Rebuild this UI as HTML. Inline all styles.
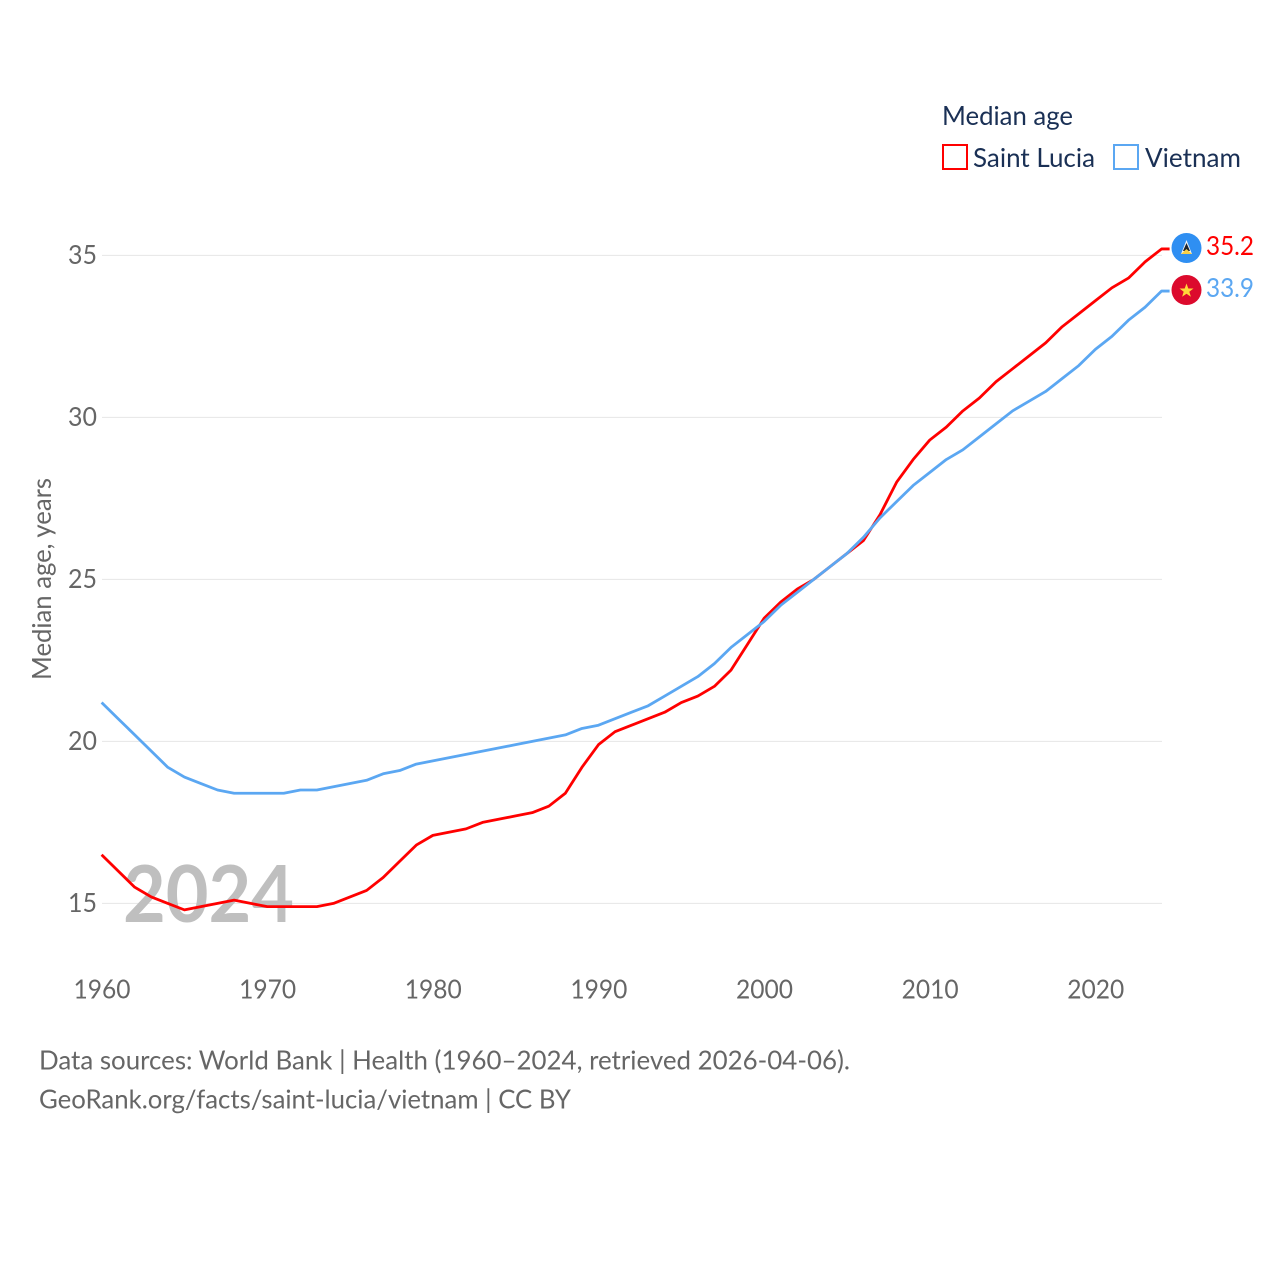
<!DOCTYPE html>
<html lang="en">
<head>
<meta charset="utf-8">
<title>Median age: Saint Lucia and Vietnam</title>
<style>
html,body{margin:0;padding:0;background:#fff;width:1280px;height:1280px;overflow:hidden}
svg{display:block;font-family:"Lato","Carlito","Liberation Sans",sans-serif}
</style>
</head>
<body>
<svg id="chart" xmlns="http://www.w3.org/2000/svg" width="1280" height="1280" viewBox="0 0 1280 1280">
  <rect x="0" y="0" width="1280" height="1280" fill="#fff"/>
  <g id="grid"></g>
  <text x="123" y="922" font-size="79" font-weight="700" fill="#bfbfbf" textLength="171" lengthAdjust="spacingAndGlyphs">2024</text>
  <g id="yticks"></g>
  <g id="xticks"></g>
  <text transform="translate(51,680) rotate(-90)" font-size="26" fill="#666" textLength="202" lengthAdjust="spacingAndGlyphs">Median age, years</text>
  <g id="series"></g>

  <text x="942" y="125" font-size="26" fill="#1a3055" textLength="131" lengthAdjust="spacingAndGlyphs">Median age</text>
  <g>
    <rect x="943" y="145" width="24" height="24" fill="none" stroke="#ff0000" stroke-width="2"/>
    <text x="973" y="167" font-size="26" fill="#1a3055" textLength="122" lengthAdjust="spacingAndGlyphs">Saint Lucia</text>
  </g>
  <g>
    <rect x="1114" y="145" width="24" height="24" fill="none" stroke="#5ba7f2" stroke-width="2"/>
    <text x="1145" y="167" font-size="26" fill="#1a3055" textLength="96" lengthAdjust="spacingAndGlyphs">Vietnam</text>
  </g>

  <g>
    <circle cx="1186.500" cy="248" r="15" fill="#2f8ff2"/>
    <polygon points="1186.500,240 1192,254 1181,254" fill="#f4f4f4"/>
    <polygon points="1186.500,243 1190,251 1183,251" fill="#1c2430"/>
    <polygon points="1186.500,249 1192,254 1181,254" fill="#f7cf47"/>
  </g>
  <g>
    <circle cx="1186.500" cy="290" r="15" fill="#dc0a2d"/>
    <polygon points="1186.500,283.500 1188.300,288.500 1193.500,288.500 1189.300,291.700 1190.900,296.800 1186.500,293.700 1182.100,296.800 1183.700,291.700 1179.500,288.500 1184.700,288.500" fill="#ffd83a"/>
  </g>
  <text x="1206" y="255" font-size="26" fill="#ff0000" textLength="48" lengthAdjust="spacingAndGlyphs">35.2</text>
  <text x="1206" y="297" font-size="26" fill="#5ba7f2" textLength="48" lengthAdjust="spacingAndGlyphs">33.9</text>

  <text x="39" y="1069.500" font-size="26" fill="#666" textLength="811" lengthAdjust="spacingAndGlyphs">Data sources: World Bank | Health (1960–2024, retrieved 2026-04-06).</text>
  <text x="39" y="1108.500" font-size="26" fill="#666" textLength="532" lengthAdjust="spacingAndGlyphs">GeoRank.org/facts/saint-lucia/vietnam | CC BY</text>
</svg>
<script>
const startYear = 1960;
const saintLuciaValues = [16.5,16.0,15.5,15.2,15.0,14.8,14.9,15.0,15.1,15.0,14.9,14.9,14.9,14.9,15.0,15.2,15.4,15.8,16.3,16.8,17.1,17.2,17.3,17.5,17.6,17.7,17.8,18.0,18.4,19.2,19.9,20.3,20.5,20.7,20.9,21.2,21.4,21.7,22.2,23.0,23.8,24.3,24.7,25.0,25.4,25.8,26.2,27.0,28.0,28.7,29.3,29.7,30.2,30.6,31.1,31.5,31.9,32.3,32.8,33.2,33.6,34.0,34.3,34.8,35.2];
const vietnamValues = [21.2,20.7,20.2,19.7,19.2,18.9,18.7,18.5,18.4,18.4,18.4,18.4,18.5,18.5,18.6,18.7,18.8,19.0,19.1,19.3,19.4,19.5,19.6,19.7,19.8,19.9,20.0,20.1,20.2,20.4,20.5,20.7,20.9,21.1,21.4,21.7,22.0,22.4,22.9,23.3,23.7,24.2,24.6,25.0,25.4,25.8,26.3,26.9,27.4,27.9,28.3,28.7,29.0,29.4,29.8,30.2,30.5,30.8,31.2,31.6,32.1,32.5,33.0,33.4,33.9];
const yTicks = [15,20,25,30,35];
const xTicks = [1960,1970,1980,1990,2000,2010,2020];

const NS = 'http://www.w3.org/2000/svg';
function xScale(year){ return 101.6 + (year - 1960) * 16.5625; }
function yScale(value){ return 903.4 - (value - 15) * 32.4; }

const grid = document.getElementById('grid');
const yGroup = document.getElementById('yticks');
const xGroup = document.getElementById('xticks');
const seriesGroup = document.getElementById('series');

yTicks.forEach(function(t){
  const line = document.createElementNS(NS,'line');
  
  
  line.setAttribute('x1', 102);
  line.setAttribute('x2', 1162);
  line.setAttribute('y1', yScale(t));
  line.setAttribute('y2', yScale(t));
  line.setAttribute('stroke', '#e6e6e6');
  line.setAttribute('stroke-width', '1');
  grid.appendChild(line);

  const label = document.createElementNS(NS,'text');
  
  
  label.setAttribute('x', 97);
  label.setAttribute('y', yScale(t) + 8.6);
  label.setAttribute('text-anchor', 'end');
  label.setAttribute('font-size', '26');
  label.setAttribute('fill', '#666');
  label.setAttribute('textLength', '29');
  label.setAttribute('lengthAdjust', 'spacingAndGlyphs');
  label.textContent = String(t);
  yGroup.appendChild(label);
});

xTicks.forEach(function(t){
  const label = document.createElementNS(NS,'text');
  
  
  label.setAttribute('x', xScale(t) + 0.4);
  label.setAttribute('y', 998.5);
  label.setAttribute('text-anchor', 'middle');
  label.setAttribute('font-size', '26');
  label.setAttribute('fill', '#666');
  label.setAttribute('textLength', '57');
  label.setAttribute('lengthAdjust', 'spacingAndGlyphs');
  label.textContent = String(t);
  xGroup.appendChild(label);
});

function buildPoints(values){
  const pts = values.map(function(v,i){
    return xScale(startYear + i).toFixed(2) + ',' + yScale(v).toFixed(2);
  });
  const last = values[values.length - 1];
  pts.push((xScale(startYear + values.length - 1) + 8).toFixed(2) + ',' + yScale(last).toFixed(2));
  return pts.join(' ');
}

const luciaLine = document.createElementNS(NS,'polyline');


luciaLine.setAttribute('points', buildPoints(saintLuciaValues));
luciaLine.setAttribute('fill', 'none');
luciaLine.setAttribute('stroke', '#ff0000');
luciaLine.setAttribute('stroke-width', '2.800');
luciaLine.setAttribute('stroke-linejoin', 'round');
seriesGroup.appendChild(luciaLine);

const vietnamLine = document.createElementNS(NS,'polyline');


vietnamLine.setAttribute('points', buildPoints(vietnamValues));
vietnamLine.setAttribute('fill', 'none');
vietnamLine.setAttribute('stroke', '#5ba7f2');
vietnamLine.setAttribute('stroke-width', '2.800');
vietnamLine.setAttribute('stroke-linejoin', 'round');
seriesGroup.appendChild(vietnamLine);
</script>
</body>
</html>
